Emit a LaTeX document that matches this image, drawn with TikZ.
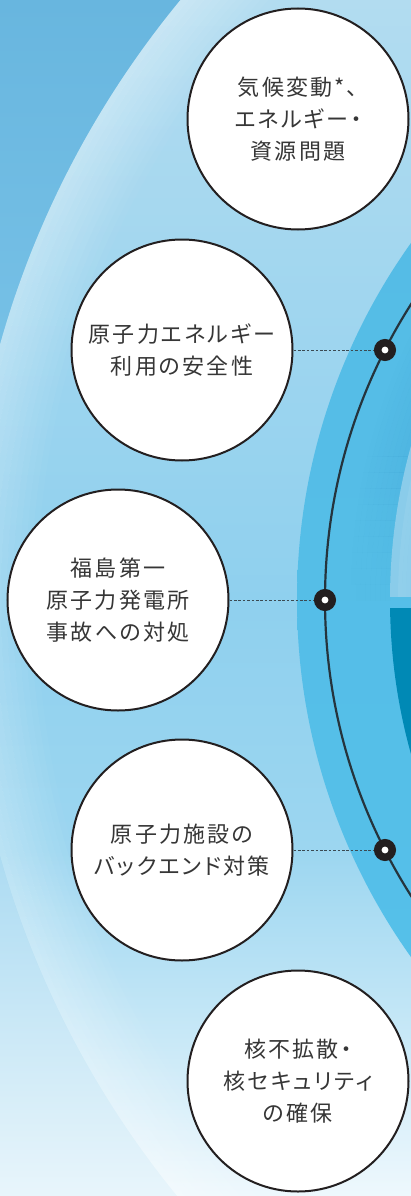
\documentclass[tikz,border=0pt]{standalone}
\usepackage{fontspec}
\newfontfamily\jpfont[LetterSpace=10,RawFeature=+palt]{Noto Sans CJK JP}

\definecolor{outline}{HTML}{231F20}
\definecolor{textgray}{HTML}{363636}
\definecolor{linkgray}{HTML}{3B4A52}
\definecolor{orbitdark}{HTML}{25343D}
\definecolor{skyouterA}{HTML}{68B6DF}
\definecolor{skyouterB}{HTML}{80C8EB}
\definecolor{skyouterC}{HTML}{E8F5FB}
\definecolor{skyinnerA}{HTML}{B2DCF0}
\definecolor{skyinnerB}{HTML}{8FD0EE}
\definecolor{skyinnerC}{HTML}{9CD6F0}
\definecolor{skyinnerD}{HTML}{EEF8FD}
\definecolor{bandtop}{HTML}{55BBE5}
\definecolor{bandmid}{HTML}{47B9E6}
\definecolor{bandbot}{HTML}{55C1EA}
\definecolor{bandshadow}{HTML}{2A8DC2}
\definecolor{corelight}{HTML}{8ACCEA}
\definecolor{coreglow}{HTML}{9DD5EE}
\definecolor{coreteal}{HTML}{0089B5}

\tikzstyle{topic}=[circle,draw=outline,line width=2pt,fill=white,minimum size=221pt,inner sep=0pt,align=center,text=textgray,font={\fontsize{22}{32}\jpfont}]
\tikzstyle{hub}=[circle,draw=outline,line width=7.5pt,fill=white,minimum size=14.5pt,inner sep=0pt]
\tikzstyle{link}=[draw=linkgray,line width=0.9pt,dash pattern=on 2.6pt off 1.8pt]
\tikzstyle{orbit}=[draw=orbitdark,line width=2.2pt]

\begin{document}
\begin{tikzpicture}[x=1pt,y=-1pt]
		\useasboundingbox (0,0) rectangle (411,1196);
		\clip (0,0) rectangle (411,1196);

		\shade [top color=skyouterA, bottom color=skyouterB] (0,0)   rectangle (411,600);
		\shade [top color=skyouterB, bottom color=skyouterC] (0,600) rectangle (411,1196);

		\begin{scope}
			\clip (908,600) circle (943);
			\shade [top color=skyinnerA, bottom color=skyinnerB] (0,0)   rectangle (411,600);
			\shade [top color=skyinnerB, bottom color=skyinnerC] (0,600) rectangle (411,850);
			\shade [top color=skyinnerC, bottom color=skyinnerD] (0,850) rectangle (411,1196);
			\foreach \i in {0,...,11}
				\draw [white, line width=6pt, opacity={0.3*(1-\i/12)}] (908,600) circle ({940-6*\i});
		\end{scope}

		\path [top color=bandtop, middle color=bandmid, bottom color=bandbot] (913,600) circle (616);
		\foreach \j in {0,...,9} {
			\begin{scope}
				\clip (300,{ifthenelse(\j==0,0,440+16*\j)}) rectangle (411,{456+16*\j});
				\foreach \i in {0,...,7}
					\draw [bandshadow, line width=5pt, opacity={0.13*(1-\i/8)*(1-\j/10)}] (962,600) circle ({574+5*\i});
			\end{scope}
		}
		\begin{scope}
			\clip (0,0) rectangle (411,596);
			\fill [corelight] (962,600) circle (572);
			\foreach \i in {0,...,5}
				\draw [coreglow, line width=4pt, opacity={0.4*(1-\i/6)}] (962,600) circle ({562-4*\i});
		\end{scope}
		\begin{scope}
			\clip (0,608) rectangle (411,1196);
			\fill [coreteal] (962,600) circle (572);
		\end{scope}

		\draw [orbit] (876,600) circle (551);

		\node [topic] (climate)   at (298, 119)  {気候変動*、\\エネルギー・\\資源問題};
		\node [topic] (safety)    at (182, 350)  {原子力エネルギー\\利用の安全性};
		\node [topic] (fukushima) at (118, 600)  {福島第一\\原子力発電所\\事故への対処};
		\node [topic] (backend)   at (182, 850)  {原子力施設の\\バックエンド対策};
		\node [topic] (nonprolif) at (298, 1081) {核不拡散・\\核セキュリティ\\の確保};
		\node [hub]   (hub1)      at (385, 350)  {};
		\node [hub]   (hub2)      at (325, 600)  {};
		\node [hub]   (hub3)      at (385, 850)  {};

		\draw (safety)    edge [link] (hub1);
		\draw (fukushima) edge [link] (hub2);
		\draw (backend)   edge [link] (hub3);
	\end{tikzpicture}
\end{document}
